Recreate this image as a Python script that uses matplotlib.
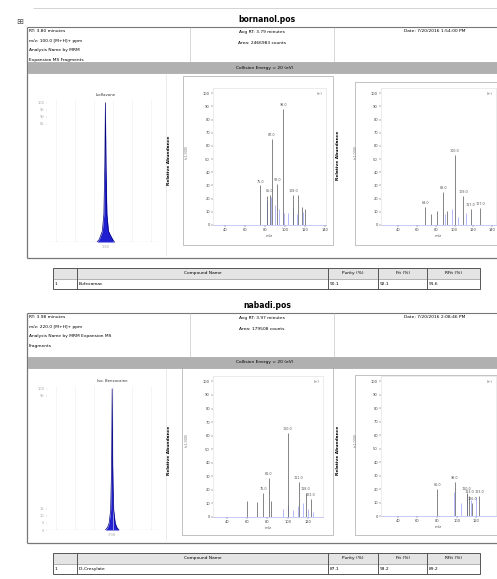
import matplotlib
matplotlib.use("Agg")
import matplotlib.pyplot as plt
from matplotlib.patches import Rectangle
import numpy as np

W, H = 497, 579

# ---- report text ----
sample_titles = ["bornanol.pos", "nabadi.pos"]
header_left = [
    ["RT: 3.80 minutes", "m/z: 100.0 [M+H]+ ppm", "Analysis Name by MRM", "Expansion MS Fragments"],
    ["RT: 3.98 minutes", "m/z: 220.0 [M+H]+ ppm", "Analysis Name by MRM Expansion MS", "Fragments"],
]
header_mid = [
    ["Avg RT: 3.79 minutes", "Area: 2466983 counts"],
    ["Avg RT: 3.97 minutes", "Area: 179508 counts"],
]
header_date = ["Date: 7/20/2016 1:54:00 PM", "Date: 7/20/2016 2:08:46 PM"]
collision_label = "Collision Energy = 20 (eV)"
peak_names = ["Isoflavone", "Iso. Benzocaine"]

table_header = ["", "Compound Name", "Purity (%)", "Fit (%)", "RFit (%)"]
table_rows = [
    ["1", "Bufexamac", "90.1", "92.1", "91.6"],
    ["1", "Di-Cresylate", "87.1", "93.2", "89.2"],
]

# ---- chromatograms (time, intensity %) ----
chrom1_time = [3.58, 3.64, 3.68, 3.72, 3.76, 3.785, 3.80, 3.815, 3.84, 3.88, 3.93, 3.99, 4.04]
chrom1_int = [0, 2, 5, 8, 20, 55, 100, 55, 20, 8, 5, 2, 0]
chrom2_time = [3.80, 3.86, 3.90, 3.94, 3.965, 3.98, 3.995, 4.02, 4.06, 4.10, 4.16]
chrom2_int = [0, 2, 5, 14, 45, 100, 45, 14, 5, 2, 0]

# ---- spectra: sample (grey sticks) and library (light blue sticks) ----
spec1_mz = [75, 82, 85, 87, 92, 98, 108, 113, 117, 120]
spec1_int = [30, 22, 23, 65, 31, 88, 23, 23, 14, 12]
ref1_mz = [82, 86, 90, 94, 99, 103, 108, 112, 118]
ref1_int = [18, 21, 15, 12, 9, 9, 14, 8, 10]

spec2_mz = [69, 75, 81, 88, 92, 100, 109, 117, 127]
spec2_int = [14, 8, 11, 25, 11, 53, 22, 12, 13]
ref2_mz = [90, 97, 104, 112]
ref2_int = [8, 12, 6, 9]

spec3_mz = [60, 70, 76, 81, 83, 100, 111, 118, 123]
spec3_int = [12, 11, 18, 29, 12, 62, 26, 18, 13]
ref3_mz = [95, 100, 105, 110, 115, 120, 125]
ref3_int = [6, 9, 5, 8, 10, 6, 4]

spec4_mz = [80, 98, 110, 113, 116, 123]
spec4_int = [20, 25, 17, 15, 10, 15]
ref4_mz = [97, 104, 110, 115, 120]
ref4_int = [18, 10, 16, 12, 14]

spec_ticks = [40, 60, 80, 100, 120, 140]
intensity_ticks = [0, 10, 20, 30, 40, 50, 60, 70, 80, 90, 100]

fig = plt.figure(figsize=(W / 100, H / 100), dpi=100)
page = fig.add_axes([0, 0, 1, 1])
page.set_xlim(0, W)
page.set_ylim(H, 0)
page.axis("off")

FS = 3.2


def px_axes(x0, y0, x1, y1):
    return fig.add_axes([x0 / W, 1 - y1 / H, (x1 - x0) / W, (y1 - y0) / H])


def hline(y, x0, x1, c="#888888", lw=0.6):
    page.plot([x0, x1], [y, y], color=c, lw=lw, solid_capstyle="butt")


def vline(x, y0, y1, c="#888888", lw=0.6):
    page.plot([x, x], [y0, y1], color=c, lw=lw, solid_capstyle="butt")


def draw_chrom(box, t, inten, name, xlim, yticks):
    ax = px_axes(*box)
    ax.fill_between(t, inten, color="#1f1fd0", lw=0)
    ax.plot(t, inten, color="#00007a", lw=0.5)
    ax.axhline(0, color="#aab4ff", lw=0.8)
    ax.set_xlim(*xlim)
    ax.set_ylim(0, 102)
    ax.set_xticks(np.arange(2.5, 5.3, 0.5), minor=True)
    ax.grid(True, which="minor", axis="x", color="#eeeeee", lw=0.4)
    apex = t[int(np.argmax(inten))]
    ax.set_xticks([apex])
    ax.set_xticklabels([f"{apex:.2f}"])
    ax.set_yticks(yticks)
    ax.tick_params(labelsize=2.6, length=1, width=0.3, pad=1, colors="#aaaaaa")
    ax.tick_params(which="minor", length=0)
    for s in ax.spines.values():
        s.set_visible(False)
    ax.text(apex, 104, name, ha="center", va="bottom", fontsize=2.8, color="#333333")
    return ax


def draw_spec(box, xlim, mz, inten, ref_mz, ref_int, ticks):
    ax = px_axes(*box)
    ax.vlines(ref_mz, 0, ref_int, color="#aab0ff", lw=0.6)
    ax.vlines(mz, 0, inten, color="#555555", lw=0.5)
    top = sorted(range(len(mz)), key=lambda i: -inten[i])[:6]
    for i in top:
        ax.text(mz[i], inten[i] + 1.5, f"{mz[i]:.1f}", ha="center", va="bottom",
                fontsize=2.4, color="#555555")
    ax.set_xlim(*xlim)
    ax.set_ylim(0, 104)
    ax.set_xticks([v for v in ticks if xlim[0] < v < xlim[1]])
    ax.set_yticks(intensity_ticks)
    ax.tick_params(labelsize=2.6, length=1.2, width=0.3, pad=1, colors="#444444")
    for s in ax.spines.values():
        s.set_color("#dddddd")
        s.set_linewidth(0.4)
    ax.spines["bottom"].set_color("#9aa4ee")
    ax.text(0.97, 0.97, "(+)", transform=ax.transAxes, ha="right", va="top",
            fontsize=2.6, color="#555555")
    ax.set_xlabel("m/z", fontsize=2.8, labelpad=1.5, color="#555555")
    return ax


def section(k, y_title, y_head, y_bar, y_bottom):
    # title + frame
    page.text(267, y_title, sample_titles[k], ha="center", va="center",
              fontsize=5.5, fontweight="bold")
    hline(y_head, 27, W, c="#777777", lw=0.8)
    vline(27, y_head, y_bottom, c="#777777", lw=0.9)
    hline(y_bottom, 27, W, c="#777777", lw=0.9)
    vline(190, y_head, y_bar, c="#bbbbbb", lw=0.4)
    vline(334, y_head, y_bar, c="#bbbbbb", lw=0.4)
    vline(166, y_bar + 12, y_bottom - 3, c="#e2e2e2", lw=0.5)
    for j, s in enumerate(header_left[k]):
        page.text(29, y_head + 4.5 + j * 9.5, s, fontsize=FS, va="center")
    for j, s in enumerate(header_mid[k]):
        page.text(262, y_head + 4.5 + j * 11, s, fontsize=FS, va="center", ha="center")
    page.text(404, y_head + 4.5, header_date[k], fontsize=FS, va="center")
    page.add_patch(Rectangle((28, y_bar), W - 28, 11, facecolor="#b0b0b0",
                             edgecolor="#999999", lw=0.4, zorder=3))
    page.text(265, y_bar + 5.5, collision_label, fontsize=FS, ha="center",
              va="center", zorder=4)


def table(k, y0):
    cols = [53, 77, 328, 378, 427, 480]
    rh = 10.5
    page.add_patch(Rectangle((cols[0], y0), cols[-1] - cols[0], rh, facecolor="#e4e4e4",
                             edgecolor="none"))
    page.add_patch(Rectangle((cols[0], y0), cols[-1] - cols[0], 2 * rh, facecolor="none",
                             edgecolor="#555555", lw=0.7))
    hline(y0 + rh, cols[0], cols[-1], c="#777777", lw=0.4)
    for c in cols[1:-1]:
        vline(c, y0, y0 + 2 * rh, c="#555555", lw=0.7)
    for j, s in enumerate(table_header):
        page.text((cols[j] + cols[j + 1]) / 2, y0 + rh / 2, s, fontsize=FS,
                  ha="center", va="center")
    for j, s in enumerate(table_rows[k]):
        page.text(cols[j] + 2, y0 + 1.5 * rh, s, fontsize=FS, ha="left", va="center")


# ---------- top of page ----------
hline(8, 33, W, c="#cccccc", lw=0.6)
page.text(20, 22, "\u229e", fontsize=6, ha="center", va="center", color="#555555")

# ---------- section 1 ----------
section(0, 19, 27, 62, 258)
draw_chrom((47, 100, 160, 242), chrom1_time, chrom1_int, peak_names[0], (2.25, 5.25),
           [85, 90, 95, 100])
page.add_patch(Rectangle((183, 76), 150, 169, facecolor="none", edgecolor="#aaaaaa", lw=0.5))
page.add_patch(Rectangle((355, 82), 145, 163, facecolor="none", edgecolor="#aaaaaa", lw=0.5))
draw_spec((213, 88, 326, 225), (28, 141), spec1_mz, spec1_int, ref1_mz, ref1_int, spec_ticks)
draw_spec((381, 88, 496, 225), (22, 144), spec2_mz, spec2_int, ref2_mz, ref2_int, spec_ticks)
page.text(169, 160, "Relative Abundance", rotation=90, fontsize=3.2, fontweight="bold",
          ha="center", va="center")
page.text(338, 155, "Relative Abundance", rotation=90, fontsize=3.2, fontweight="bold",
          ha="center", va="center")
page.text(187, 152, "(x1,000)", rotation=90, fontsize=2.4, ha="center", va="center",
          color="#777777")
page.text(356, 152, "(x1,000)", rotation=90, fontsize=2.4, ha="center", va="center",
          color="#777777")
table(0, 268)

# ---------- section 2 ----------
section(1, 306, 313, 357, 543)
draw_chrom((47, 386, 160, 530), chrom2_time, chrom2_int, peak_names[1], (2.25, 5.25),
           [0, 5, 10, 15, 95, 100])
page.add_patch(Rectangle((182, 367), 151, 168, facecolor="none", edgecolor="#aaaaaa", lw=0.5))
page.add_patch(Rectangle((355, 375), 145, 160, facecolor="none", edgecolor="#aaaaaa", lw=0.5))
draw_spec((213, 376, 323, 517), (26, 135), spec3_mz, spec3_int, ref3_mz, ref3_int, spec_ticks)
draw_spec((381, 376, 496, 516), (23, 140), spec4_mz, spec4_int, ref4_mz, ref4_int, spec_ticks)
page.text(169, 450, "Relative Abundance", rotation=90, fontsize=3.2, fontweight="bold",
          ha="center", va="center")
page.text(338, 450, "Relative Abundance", rotation=90, fontsize=3.2, fontweight="bold",
          ha="center", va="center")
page.text(187, 440, "(x1,000)", rotation=90, fontsize=2.4, ha="center", va="center",
          color="#777777")
page.text(356, 440, "(x1,000)", rotation=90, fontsize=2.4, ha="center", va="center",
          color="#777777")
table(1, 553)

fig.savefig("out.png", dpi=100)
